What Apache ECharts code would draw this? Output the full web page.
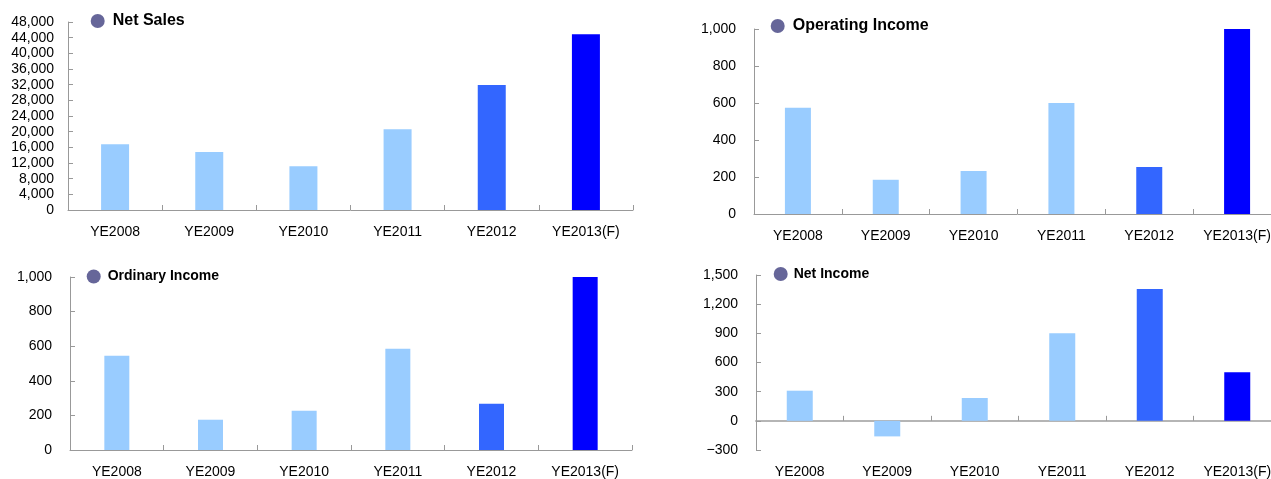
<!DOCTYPE html>
<html>
<head>
<meta charset="utf-8">
<script src="https://cdn.jsdelivr.net/npm/echarts@6/dist/echarts.min.js"></script>
<style>
html,body{margin:0;padding:0;background:#fff;overflow:hidden;}
#wrap{width:1271px;height:479px;overflow:hidden;}
#c{width:1295px;height:479px;}
</style>
</head>
<body>
<div id="wrap"><div id="c"></div></div>
<script>
const categories = ['YE2008','YE2009','YE2010','YE2011','YE2012','YE2013(F)'];
const netSales = [16800, 14800, 11200, 20600, 31900, 44900];
const operatingIncome = [575, 185, 233, 600, 254, 1000];
const ordinaryIncome = [545, 175, 227, 585, 268, 1000];
const netIncome = [310, -160, 235, 900, 1355, 500];
const barColors = ['#99CCFF','#99CCFF','#99CCFF','#99CCFF','#3366FF','#0000FF'];
const seriesNames = ['Net Sales','Operating Income','Ordinary Income','Net Income'];

const FONT = 'Liberation Sans, Arial, sans-serif';
const AXIS_COLOR = '#999999';

function fmt(v){
  const s = Math.abs(v).toLocaleString('en-US');
  return v < 0 ? '\u2212' + s : s;
}
function toData(vals){
  return vals.map((v,i)=>({value:v, itemStyle:{color:barColors[i]}}));
}
function catAxis(gi, extra){
  return Object.assign({
    type:'category', gridIndex:gi, data:categories, position:'bottom',
    axisLine:{show:true, onZero:false, lineStyle:{color:AXIS_COLOR,width:1}},
    axisTick:{show:true, inside:true, length:5, alignWithLabel:false, lineStyle:{color:AXIS_COLOR}},
    axisLabel:{show:true, margin:15, color:'#000', fontFamily:FONT, fontSize:14, interval:0},
    splitLine:{show:false}
  }, extra||{});
}
function valAxis(gi, min, max, interval, margin){
  return {
    type:'value', gridIndex:gi, min:min, max:max, interval:interval,
    axisLine:{show:true, lineStyle:{color:AXIS_COLOR,width:1}},
    axisTick:{show:true, inside:true, length:5, lineStyle:{color:AXIS_COLOR}},
    axisLabel:{margin:margin, color:'#000', fontFamily:FONT, fontSize:14, formatter:fmt},
    splitLine:{show:false}
  };
}
function legend(name, left, top, size, pad){
  return {
    data:[name], left:left, top:top, padding:0, icon:'circle',
    itemWidth:14, itemHeight:14, selectedMode:false,
    itemStyle:{color:'#666699'},
    textStyle:{fontFamily:FONT, fontWeight:'bold', fontSize:size, color:'#000', padding:[0,0,0,pad]}
  };
}

const chart = echarts.init(document.getElementById('c'), null, {renderer:'canvas'});
chart.setOption({
  animation:false,
  backgroundColor:'#ffffff',
  grid:[
    {left:68, top:22, width:565, height:188},
    {left:754, top:29, width:527, height:185},
    {left:70, top:277, width:562, height:173},
    {left:756, top:275, width:525, height:175}
  ],
  legend:[
    legend(seriesNames[0], 90.7, 13, 16, 3),
    legend(seriesNames[1], 770.7, 18, 16, 3),
    legend(seriesNames[2], 86.7, 269.5, 14, 2),
    legend(seriesNames[3], 773.7, 267, 14, 1)
  ],
  xAxis:[
    catAxis(0),
    catAxis(1),
    catAxis(2),
    catAxis(3, {axisLine:{show:false, onZero:false}, axisTick:{show:false}}),
    catAxis(3, {axisLine:{show:true, onZero:true, lineStyle:{color:'#b5b5b5', width:2}}, axisLabel:{show:false}})
  ],
  yAxis:[
    valAxis(0, 0, 48000, 4000, 14),
    valAxis(1, 0, 1000, 200, 18),
    valAxis(2, 0, 1000, 200, 18),
    valAxis(3, -300, 1500, 300, 18)
  ],
  series:[
    {name:seriesNames[0], type:'bar', xAxisIndex:0, yAxisIndex:0, barWidth:28, data:toData(netSales)},
    {name:seriesNames[1], type:'bar', xAxisIndex:1, yAxisIndex:1, barWidth:26, data:toData(operatingIncome)},
    {name:seriesNames[2], type:'bar', xAxisIndex:2, yAxisIndex:2, barWidth:25, data:toData(ordinaryIncome)},
    {name:seriesNames[3], type:'bar', xAxisIndex:3, yAxisIndex:3, barWidth:26, data:toData(netIncome)}
  ]
});
</script>
</body>
</html>
